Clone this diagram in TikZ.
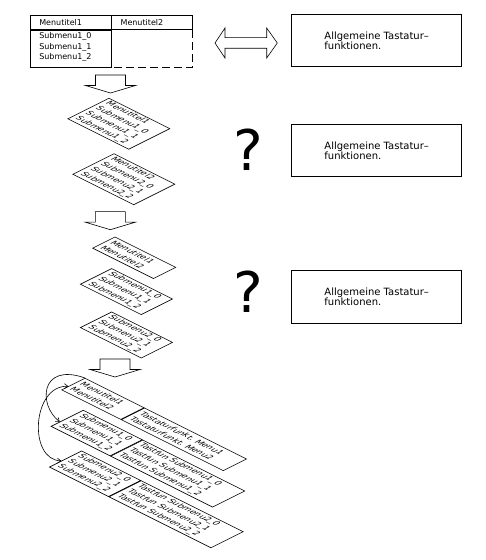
\documentclass[tikz,border=0pt]{standalone}
\usepackage{fontspec}
\setmainfont{DejaVu Sans}
\usepackage{tikz}
\usetikzlibrary{positioning, arrows.meta, calc}
\newcommand{\tabfont}{\fontsize{8}{10.5}\selectfont}
\newcommand{\cardfont}{\fontsize{8.5}{11.3}\selectfont}
\newcommand{\boxfont}{\fontsize{10}{10}\selectfont}
\newcommand{\askfont}{\fontsize{56}{60}\selectfont}

\begin{document}
\begin{tikzpicture}[x=1pt, y=1pt, line width=0.6pt,
    cell/.style={
      draw, anchor=north west, text width=62.7pt, align=left,
      inner xsep=9pt, inner ysep=0pt, minimum height=14.5pt, font=\tabfont
    },
    openline/.style={dash pattern=on 8pt off 4pt},
    infobox/.style={
      draw, minimum width=170pt, minimum height=52pt,
      align=left, font=\boxfont
    },
    ask/.style={font=\askfont, inner sep=0pt},
    flow/.style={draw, fill=white, line join=miter},
    plane/.style={cm={0.894,-0.447,0.894,0.447,(0,0)}},
    card/.style={
      draw, transform shape, anchor=north west, align=left,
      inner xsep=4pt, inner ysep=0pt, font=\cardfont
    },
    link/.style={-{Straight Barb[length=3.5pt, width=5pt]}},
    linkboth/.style={{Straight Barb[length=3.5pt, width=5pt]}-{Straight Barb[length=3.5pt, width=5pt]}}
  ]
  \useasboundingbox (0,0) rectangle (486,560);

  % Menueleiste oben
  \node[cell] (title1) at (30,545) {Menutitel1};
  \node[cell] (title2) at (title1.north east) {Menutitel2};
  \node[draw, anchor=north west, minimum width=80.7pt, minimum height=36.5pt,
    inner sep=0pt] (subframe) at (title1.south west) {};
  \node[anchor=north west, align=left, inner xsep=9pt, inner ysep=2.5pt,
    font=\tabfont] (sublist) at (subframe.north west)
    {Submenu1\_0\\Submenu1\_1\\Submenu1\_2};
  \draw[openline] (title2.south east) |- (subframe.south east);

  % Doppelpfeil
  \coordinate (swapL) at (215,517);
  \coordinate (swapR) at (277.3,517);
  \draw[flow] (swapL) -- ++(10,15) -- ++(0,-9.7) -- ++(41.7,0) -- ++(0,9.7)
    -- (swapR) -- ++(-10.6,-15) -- ++(0,9.7) -- ++(-41.7,0) -- ++(0,-9.7) -- cycle;

  % Tastaturfunktionen rechts
  \node[infobox] (keysA) at (376.7,519.2) {Allgemeine Tastatur–\\funktionen.};
  \node[infobox] (keysB) at (376.7,409.2) {Allgemeine Tastatur–\\funktionen.};
  \node[infobox, minimum height=53pt] (keysC) at (376.7,263.5) {Allgemeine Tastatur–\\funktionen.};
  \node[ask] (askB) at (248,410) {?};
  \node[ask] (askC) at (248,268) {?};

  % Blockpfeile nach unten
  \coordinate (down1) at (110.5,485);
  \coordinate (down2) at (110.3,348.3);
  \coordinate (down3) at (115,201);
  \foreach \p in {down1, down2, down3}
    \draw[flow] (\p) ++(-15,0) -- ++(0,-10.5) -- ++(-10,0) -- ++(25,-7.5)
      -- ++(25,7.5) -- ++(-10,0) -- ++(0,10.5) -- cycle;

  % Stufe 1
  \begin{scope}[shift={(109,462)}, plane]
    \node[card, text width=60pt, minimum height=46pt] (menuA) at (0,0)
      {Menutitel1\\Submenu1\_0\\Submenu1\_1\\Submenu1\_2};
  \end{scope}
  \begin{scope}[shift={(114,406.5)}, plane]
    \node[card, text width=60pt, minimum height=46pt] (menuB) at (0,0)
      {Menutitel2\\Submenu2\_0\\Submenu2\_1\\Submenu2\_2};
  \end{scope}

  % Stufe 2
  \begin{scope}[shift={(115,323.3)}, plane]
    \node[card, text width=60pt, minimum height=25pt] (titles) at (0,0)
      {Menutitel1\\Menutitel2};
  \end{scope}
  \begin{scope}[shift={(111.7,291.7)}, plane]
    \node[card, text width=60pt, minimum height=35pt] (subsA) at (0,0)
      {Submenu1\_0\\Submenu1\_1\\Submenu1\_2};
  \end{scope}
  \begin{scope}[shift={(111.7,248.3)}, plane]
    \node[card, text width=60pt, minimum height=35pt] (subsB) at (0,0)
      {Submenu2\_0\\Submenu2\_1\\Submenu2\_2};
  \end{scope}

  % Stufe 3: mit Tastaturfunktionen
  \begin{scope}[shift={(85,182)}, plane]
    \node[card, text width=58pt, minimum height=26pt] (rowAa) at (0,0)
      {Menutitel1\\Menutitel2};
    \node[card, text width=106pt, minimum height=26pt] (rowAb) at (rowAa.north east)
      {Tastaturfunkt.\ Menu1\\Tastaturfunkt.\ Menu2};
  \end{scope}
  \begin{scope}[shift={(83.3,150)}, plane]
    \node[card, text width=58pt, minimum height=36pt] (rowBa) at (0,0)
      {Submenu1\_0\\Submenu1\_1\\Submenu1\_2};
    \node[card, text width=106pt, minimum height=36pt] (rowBb) at (rowBa.north east)
      {Tastfun Submenu1\_0\\Tastfun Submenu1\_1\\Tastfun Submenu1\_2};
  \end{scope}
  \begin{scope}[shift={(81.7,109.3)}, plane]
    \node[card, text width=58pt, minimum height=36pt] (rowCa) at (0,0)
      {Submenu2\_0\\Submenu2\_1\\Submenu2\_2};
    \node[card, text width=106pt, minimum height=36pt] (rowCb) at (rowCa.north east)
      {Tastfun Submenu2\_0\\Tastfun Submenu2\_1\\Tastfun Submenu2\_2};
  \end{scope}

  % Spruenge zwischen den Zeilen
  \draw[link] (rowAa.north west) .. controls (40,198) and (38,155)
    .. ($(rowBa.north west)!0.72!(rowBa.south west)$);
  \draw[linkboth] ($(rowAa.north west)!0.7!(rowAa.south west)$)
    .. controls (32,175) and (28,100)
    .. ($(rowCa.north west)!0.62!(rowCa.south west)$);
\end{tikzpicture}
\end{document}
